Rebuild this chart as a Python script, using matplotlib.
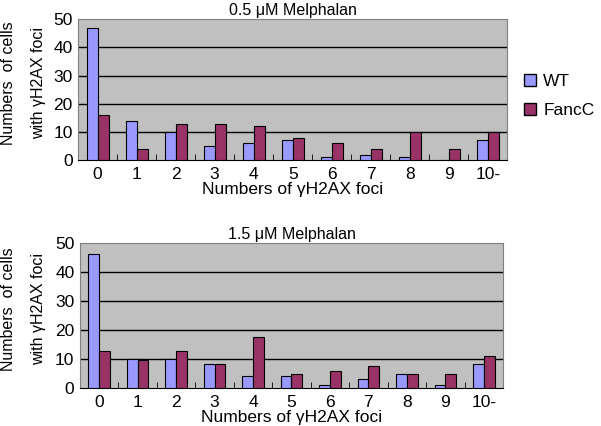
import numpy as np
import matplotlib
matplotlib.use("Agg")
import matplotlib.pyplot as plt
from matplotlib.patches import Patch

plt.rcParams['font.family'] = ['Liberation Sans', 'DejaVu Sans']

categories = ['0', '1', '2', '3', '4', '5', '6', '7', '8', '9', '10-']
series_names = ['WT', 'FancC']

wt_05 = [47, 14, 10, 5, 6, 7, 1, 2, 1, 0, 7]
fancc_05 = [16, 4, 13, 13, 12, 8, 6, 4, 10, 4, 10]

wt_15 = [46.3, 10, 10, 8.4, 4.1, 4, 1, 3, 5, 1, 8.4]
fancc_15 = [12.8, 9.5, 12.8, 8.4, 17.5, 5, 6, 7.5, 5, 5, 11.1]

titles = ['0.5 \u03bcM Melphalan', '1.5 \u03bcM Melphalan']

wt_color = '#9999ff'
fc_color = '#993366'

fig = plt.figure(figsize=(6.01, 4.26), dpi=100)
ax_top = fig.add_axes([0.130, 0.624, 0.714, 0.331])
ax_bot = fig.add_axes([0.133, 0.089, 0.704, 0.341])

x = np.arange(len(categories))
w = 0.28
for ax, wt, fc, title in [(ax_top, wt_05, fancc_05, titles[0]),
                          (ax_bot, wt_15, fancc_15, titles[1])]:
    ax.set_facecolor('#c0c0c0')
    ax.bar(x - w / 2, wt, w, color=wt_color, edgecolor='black', linewidth=0.8, zorder=3)
    ax.bar(x + w / 2, fc, w, color=fc_color, edgecolor='black', linewidth=0.8, zorder=3)
    ax.set_xlim(-0.5, len(categories) - 0.5)
    ax.set_ylim(0, 50)
    ax.set_yticks([0, 10, 20, 30, 40, 50])
    for yv in [10, 20, 30, 40]:
        ax.axhline(yv, color='black', linewidth=1.0, zorder=1)
    ax.set_xticks(x)
    ax.set_xticklabels(categories, fontsize=12.5)
    ax.set_xticks(np.arange(0.5, len(categories) - 1, 1), minor=True)
    ax.tick_params(axis='x', which='major', length=0, pad=5)
    ax.tick_params(axis='x', which='minor', direction='in', length=4, color='black')
    ax.tick_params(axis='y', labelsize=12.5, length=0, pad=4)
    ax.spines['top'].set_color('#808080')
    ax.spines['right'].set_color('#808080')
    ax.spines['left'].set_color('#808080')
    ax.spines['bottom'].set_color('black')
    ax.set_title(title, fontsize=11.5, pad=3)
    ax.set_xlabel('Numbers of \u03b3H2AX foci', fontsize=12.5, labelpad=0)

    # two-line y label, placed as separate texts
    pos = ax.get_position()
    yc = pos.y0 + pos.height / 2 + 0.015
    fig.text(9 / 601, yc, 'Numbers  of cells', rotation=90, fontsize=11.5,
             ha='center', va='center')
    fig.text(39 / 601, yc, 'with \u03b3H2AX foci', rotation=90, fontsize=11.5,
             ha='center', va='center')

handles = [Patch(facecolor=wt_color, edgecolor='black', label=series_names[0]),
           Patch(facecolor=fc_color, edgecolor='black', label=series_names[1])]
fig.legend(handles=handles, loc='center left', bbox_to_anchor=(0.872, 0.775),
           frameon=False, fontsize=12.5, handlelength=0.7, handleheight=0.7,
           handletextpad=0.4, labelspacing=0.8, borderaxespad=0, borderpad=0)

fig.savefig('out.png', dpi=100)
